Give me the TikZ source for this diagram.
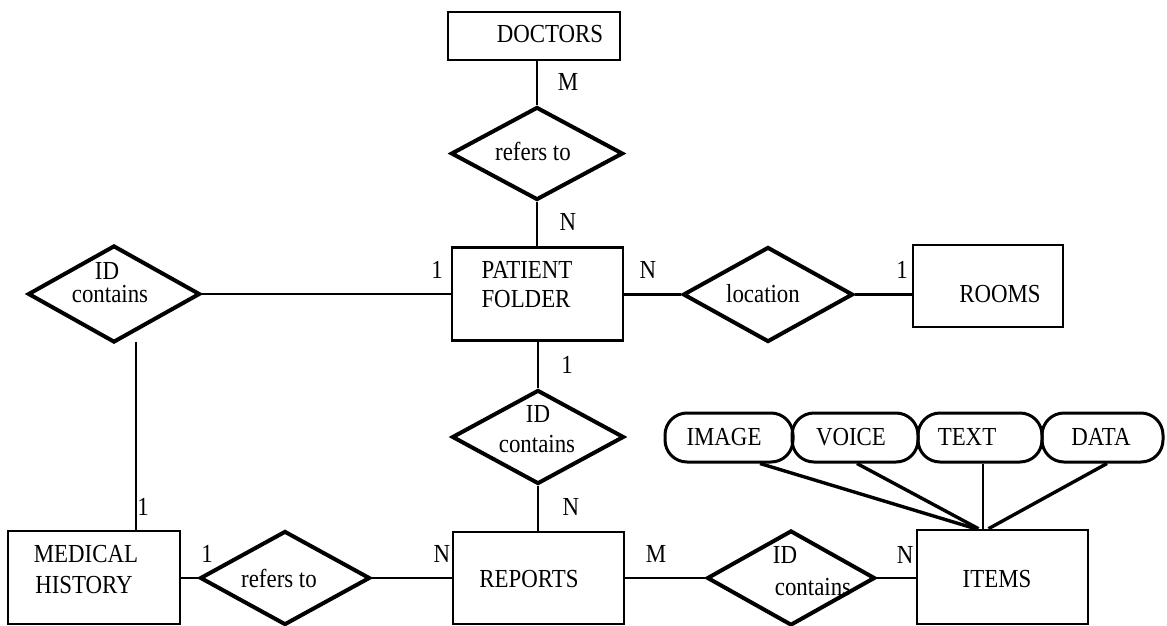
\documentclass[tikz,border=0pt]{standalone}
\usepackage{fontspec}
\newfontfamily\erfont{Liberation Serif}[FakeStretch=0.88]
\usetikzlibrary{shapes.geometric}
\begin{document}
\begin{tikzpicture}[x=1pt,y=-1pt,
  every node/.style={font=\erfont\fontsize{26}{29}\selectfont},
  entity/.style={draw, line width=2.6pt, inner sep=0pt, rectangle},
  rel/.style={draw, line width=4pt, diamond, inner sep=0pt, line join=miter},
  attr/.style={draw, line width=3pt, rectangle, rounded corners=22pt, inner sep=0pt,
               minimum width=125pt, minimum height=49pt},
  txt/.style={inner sep=0pt, anchor=base},
  conn/.style={line width=2.6pt},
  aline/.style={line width=3.4pt}]
\useasboundingbox (0,0) rectangle (1167,626);

% entities
\node[entity, minimum width=172pt, minimum height=48pt] (doc) at (534,36) {};
\node[entity, minimum width=171pt, minimum height=93pt] (pat) at (537.5,294) {};
\node[entity, minimum width=150pt, minimum height=82pt] (room) at (988,286) {};
\node[entity, minimum width=172pt, minimum height=93pt] (med) at (94,577.5) {};
\node[entity, minimum width=171pt, minimum height=92pt] (rep) at (538.5,578) {};
\node[entity, minimum width=171pt, minimum height=94pt] (item) at (1002.5,577) {};

% relationships
\node[rel, minimum width=172pt, minimum height=93pt] (r1) at (537,153.5) {};
\node[rel, minimum width=172pt, minimum height=97pt] (r2) at (114,294) {};
\node[rel, minimum width=170pt, minimum height=95pt] (r3) at (768,294.5) {};
\node[rel, minimum width=172pt, minimum height=94pt] (r4) at (538,437) {};
\node[rel, minimum width=170pt, minimum height=94pt] (r5) at (285,578) {};
\node[rel, minimum width=168pt, minimum height=95pt] (r6) at (791,578) {};

% attributes of ITEMS
\node[attr, minimum width=128pt] (a1) at (729,437.5) {};
\node[attr, minimum width=126pt] (a2) at (855,437.5) {};
\node[attr, minimum width=124pt] (a3) at (980,437.5) {};
\node[attr, minimum width=121pt] (a4) at (1102.5,437.5) {};

% connectors
\draw[conn] (r1.north |- doc.south) -- (r1.north);
\draw[conn] (r1.south) -- (r1.south |- pat.north);
\draw[conn] (r2.east) -- (r2.east -| pat.west);
\draw[conn] (pat.east |- r3.west) -- (r3.west);
\draw[conn] (r3.east) -- (r3.east -| room.west);
\draw[conn] (r4.north |- pat.south) -- (r4.north);
\draw[conn] (r4.south) -- (r4.south |- rep.north);
\coordinate (mhtop) at (136,342);
\draw[conn] (mhtop) -- (mhtop |- med.north);
\draw[conn] (med.east |- r5.west) -- (r5.west);
\draw[conn] (r5.east) -- (r5.east -| rep.west);
\draw[conn] (rep.east |- r6.west) -- (r6.west);
\draw[conn] (r6.east) -- (r6.east -| item.west);

\draw[aline] ([xshift=31pt]a1.south) -- ([xshift=-27pt]item.north);
\draw[aline] ([xshift=2pt]a2.south) -- ([xshift=-24pt]item.north);
\draw[conn] ([xshift=3pt]a3.south) -- ([xshift=-19.5pt]item.north);
\draw[aline] ([xshift=4.5pt]a4.south) -- ([xshift=-14pt]item.north);

% entity names
\node[txt] (t-doc) at (550,43) {DOCTORS};
\node[txt] (t-pat1) at (527,278) {PATIENT};
\node[txt] (t-pat2) at (526,307) {FOLDER};
\node[txt] (t-room) at (1000,302) {ROOMS};
\node[txt] (t-med1) at (86,562) {MEDICAL};
\node[txt] (t-med2) at (84,593) {HISTORY};
\node[txt] (t-rep) at (529,587) {REPORTS};
\node[txt] (t-item) at (997,587) {ITEMS};

% relationship names
\node[txt] (t-r2a) at (107,279) {ID};
\node[txt] (t-r2b) at (110,302) {contains};
\node[txt] (t-r1) at (533,160) {refers to};
\node[txt] (t-r3) at (763,302) {location};
\node[txt] (t-r4a) at (538,422) {ID};
\node[txt] (t-r4b) at (537,452) {contains};
\node[txt] (t-r5) at (279,587) {refers to};
\node[txt] (t-r6a) at (785,563) {ID};
\node[txt] (t-r6b) at (813,595) {contains};

% attribute names
\node[txt] (t-a1) at (724,445) {IMAGE};
\node[txt] (t-a2) at (851,445) {VOICE};
\node[txt] (t-a3) at (967,445) {TEXT};
\node[txt] (t-a4) at (1101,445) {DATA};

% cardinalities
\node[txt] (c1) at (568,90) {M};
\node[txt] (c2) at (568,230) {N};
\node[txt] (c3) at (437,278) {1};
\node[txt] (c4) at (648,278) {N};
\node[txt] (c5) at (902,278) {1};
\node[txt] (c6) at (567,373) {1};
\node[txt] (c7) at (571,515) {N};
\node[txt] (c8) at (143,515) {1};
\node[txt] (c9) at (207,562) {1};
\node[txt] (c10) at (442,562) {N};
\node[txt] (c11) at (656,562) {M};
\node[txt] (c12) at (905,563) {N};
\end{tikzpicture}
\end{document}
